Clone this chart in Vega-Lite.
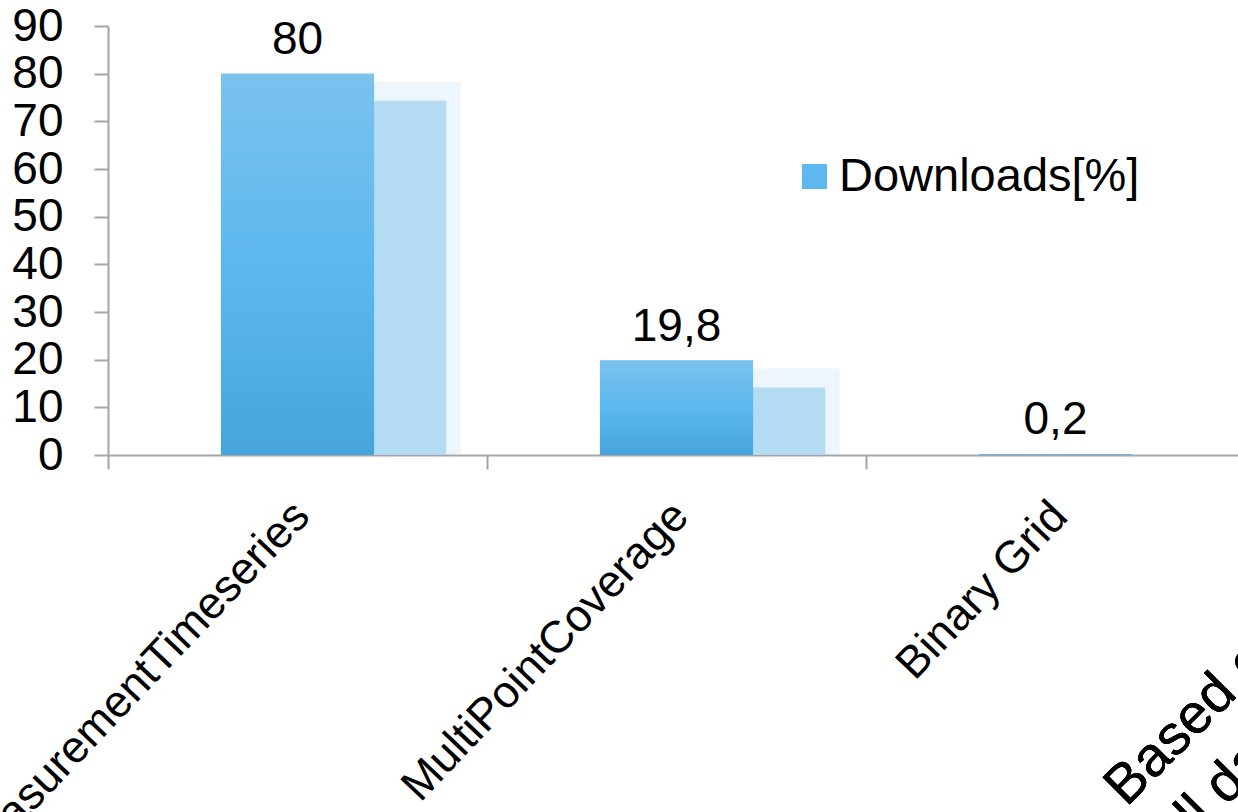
{
  "$schema": "https://vega.github.io/schema/vega-lite/v6.json",
  "width": 1130,
  "height": 429,
  "autosize": "none",
  "padding": {"left": 108, "top": 26, "right": 0, "bottom": 357},
  "background": "white",
  "config": {
    "view": {"stroke": null},
    "font": "Liberation Sans",
    "axis": {"grid": false}
  },
  "data": {
    "values": [
      {"format": "MeasurementTimeseries", "downloads": 80, "label": "80", "series": "Downloads[%]"},
      {"format": "MultiPointCoverage", "downloads": 19.8, "label": "19,8", "series": "Downloads[%]"},
      {"format": "Binary Grid", "downloads": 0.2, "label": "0,2", "series": "Downloads[%]"}
    ]
  },
  "encoding": {
    "x": {
      "field": "format",
      "type": "nominal",
      "sort": null,
      "scale": {"range": [0, 1137], "paddingInner": 0, "paddingOuter": 0},
      "axis": {
        "title": null,
        "labelAngle": -46.5,
        "labelAlign": "right",
        "labelBaseline": "top",
        "labelFontSize": 45,
        "labelFont": "Liberation Sans",
        "labelColor": "#000000",
        "labelPadding": 24,
        "labelOffset": -12,
        "labelLimit": 2000,
        "labelOverlap": false,
        "labelBound": false,
        "bandPosition": 0,
        "tickSize": 14,
        "tickColor": "#a5a5a5",
        "tickWidth": 2,
        "domainColor": "#a5a5a5",
        "domainWidth": 2
      }
    },
    "y": {
      "field": "downloads",
      "type": "quantitative",
      "scale": {"domain": [0, 90], "nice": false},
      "axis": {
        "title": null,
        "values": [0, 10, 20, 30, 40, 50, 60, 70, 80, 90],
        "labelFontSize": 46,
        "labelFont": "Liberation Sans",
        "labelColor": "#000000",
        "labelPadding": 31,
        "labelFlush": false,
        "labelOverlap": false,
        "labelBound": false,
        "tickSize": 14,
        "tickColor": "#a5a5a5",
        "tickWidth": 2,
        "domainColor": "#a5a5a5",
        "domainWidth": 2
      }
    }
  },
  "layer": [
    {
      "transform": [{"filter": "datum.downloads > 1"}],
      "mark": {"type": "bar", "width": {"band": 0.46}, "xOffset": 76, "yOffset": 8, "y2Offset": 0, "fill": "#b3dcf2", "opacity": 0.25},
      "encoding": {"y2": {"datum": 0}}
    },
    {
      "transform": [{"filter": "datum.downloads > 1"}],
      "mark": {"type": "bar", "width": {"band": 0.4}, "xOffset": 73, "yOffset": 27, "y2Offset": 0, "fill": "#b3dcf2"},
      "encoding": {"y2": {"datum": 0}}
    },
    {
      "mark": {"type": "bar", "width": {"band": 0.404}},
      "encoding": {
        "fill": {
          "field": "series",
          "type": "nominal",
          "scale": {"range": ["#5cb8ef"]},
          "legend": {
            "orient": "none",
            "legendX": 683,
            "legendY": 127,
            "title": null,
            "padding": 0,
            "symbolType": "square",
            "symbolSize": 625,
            "symbolStrokeWidth": 0,
            "labelFontSize": 47,
            "labelFont": "Liberation Sans",
            "labelColor": "#000000",
            "labelOffset": 1,
            "labelLimit": 2000,
            "encode": {
              "symbols": {
                "update": {
                  "fill": {"value": {"gradient": "linear", "x1": 0, "y1": 0, "x2": 0, "y2": 1, "stops": [{"offset": 0, "color": "#7bc2ee"}, {"offset": 0.5, "color": "#5cb8ef"}, {"offset": 1, "color": "#48a5dc"}]}}
                }
              }
            }
          }
        }
      }
    },
    {
      "mark": {
        "type": "bar",
        "width": {"band": 0.404},
        "fill": {"gradient": "linear", "x1": 0, "y1": 0, "x2": 0, "y2": 1, "stops": [{"offset": 0, "color": "#7bc2ee"}, {"offset": 0.5, "color": "#5cb8ef"}, {"offset": 1, "color": "#48a5dc"}]}
      }
    },
    {
      "mark": {"type": "text", "fontSize": 46, "font": "Liberation Sans", "baseline": "alphabetic", "dy": -20, "color": "#000000"},
      "encoding": {"text": {"field": "label"}}
    },
    {
      "mark": {"type": "text", "text": ["Based on", "all data"], "fontSize": 56, "font": "Liberation Sans", "angle": -45, "align": "left", "baseline": "alphabetic", "lineHeight": 70, "xOffset": 71, "color": "#000000"},
      "encoding": {
        "x": {"datum": "Binary Grid"},
        "y": {"datum": -74}
      }
    }
  ]
}
